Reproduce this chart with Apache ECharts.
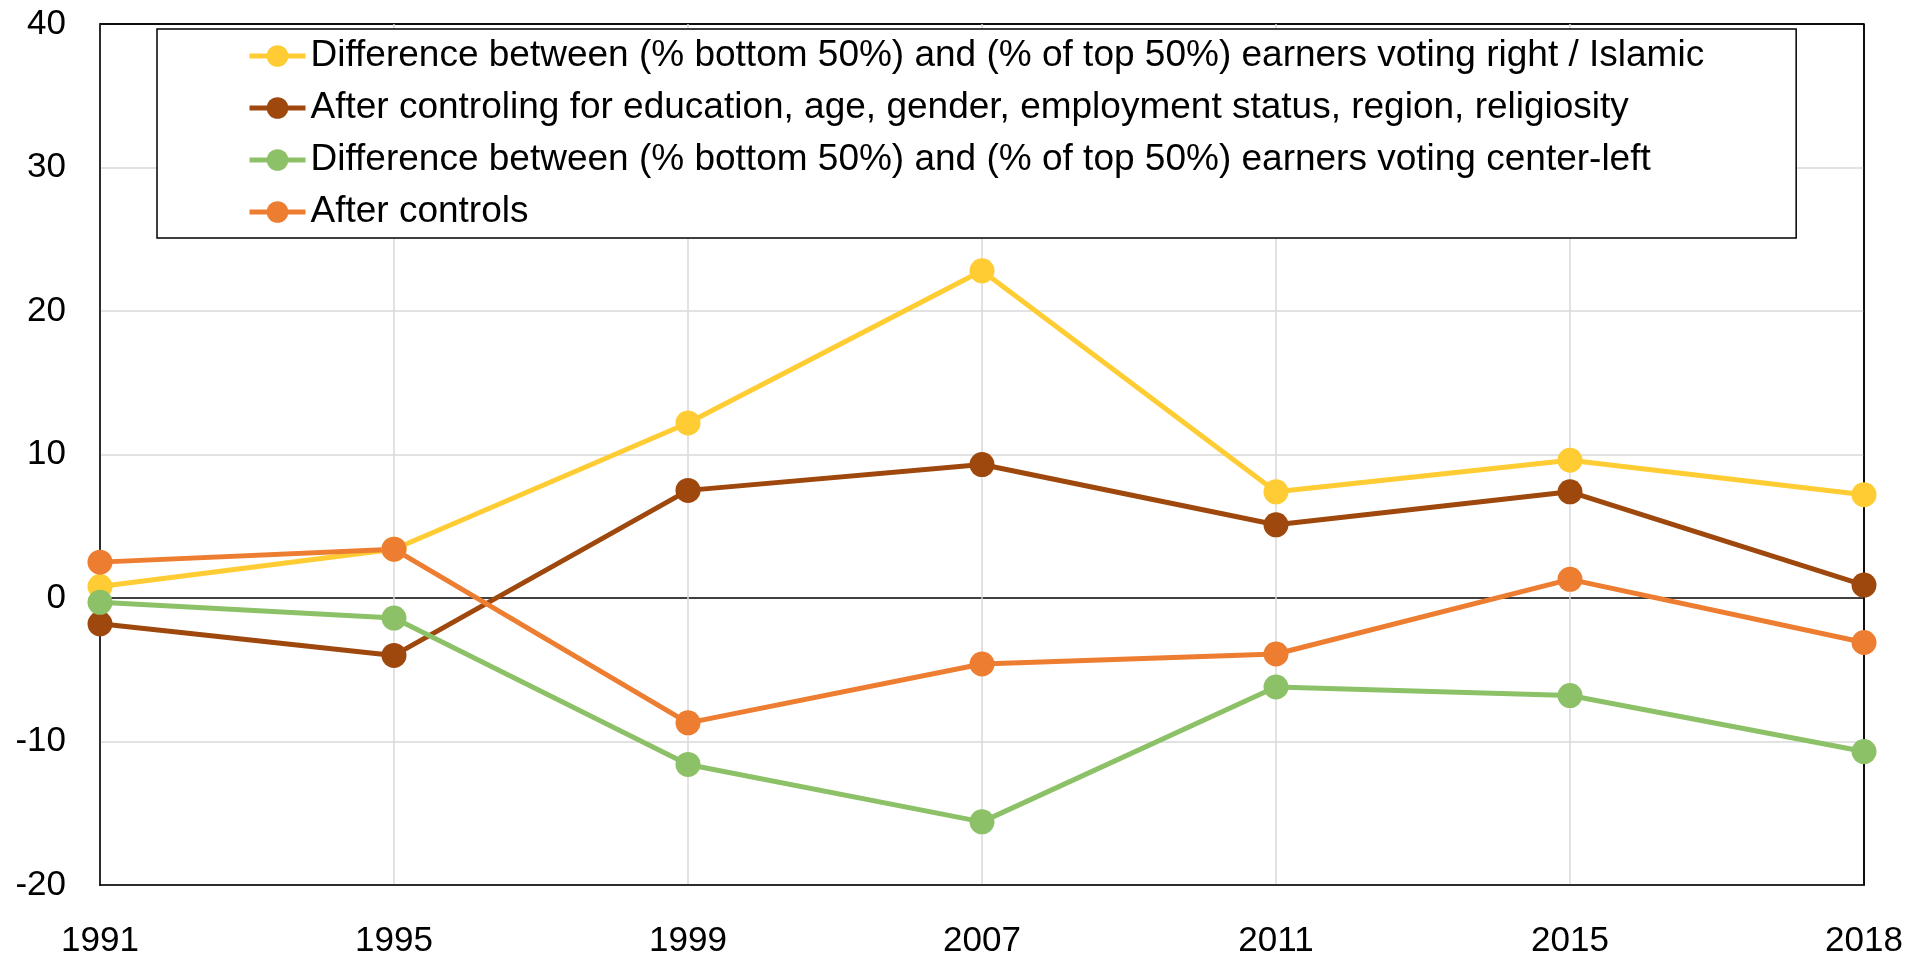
<!DOCTYPE html>
<html>
<head>
<meta charset="utf-8">
<script src="https://cdn.jsdelivr.net/npm/echarts@6/dist/echarts.min.js"></script>
<style>
html,body{margin:0;padding:0;background:#fff;}
#chart{width:1924px;height:959px;}
</style>
</head>
<body>
<div id="chart"></div>
<script>
const years = ['1991','1995','1999','2007','2011','2015','2018'];
const yTicks = [-20, -10, 0, 10, 20, 30, 40];

const nameRightIslamic = 'Difference between (% bottom 50%) and (% of top 50%) earners voting right / Islamic';
const nameRightControls = 'After controling for education, age, gender, employment status, region, religiosity';
const nameCenterLeft = 'Difference between (% bottom 50%) and (% of top 50%) earners voting center-left';
const nameLeftControls = 'After controls';

const rightIslamic = [0.8, 3.4, 12.2, 22.8, 7.4, 9.6, 7.2];
const rightControls = [-1.8, -4.0, 7.5, 9.3, 5.1, 7.4, 0.9];
const centerLeft = [-0.3, -1.4, -11.6, -15.6, -6.2, -6.8, -10.7];
const leftControls = [2.5, 3.4, -8.7, -4.6, -3.9, 1.3, -3.1];

const colors = ['#FFCC33', '#9E480E', '#8CC168', '#ED7D31'];
const FONT = '"Liberation Sans", Arial, sans-serif';

function mkSeries(name, data, color) {
  return {
    name: name, type: 'line', data: data,
    symbol: 'circle', symbolSize: 25,
    lineStyle: {color: color, width: 5},
    itemStyle: {color: color},
    emphasis: {disabled: true},
    animation: false
  };
}

const chart = echarts.init(document.getElementById('chart'), null, {renderer: 'canvas'});
chart.setOption({
  backgroundColor: '#fff',
  animation: false,
  textStyle: {fontFamily: FONT},
  grid: {left: 100, right: 60, top: 24, bottom: 73, show: true, borderColor: '#000', borderWidth: 1.5, backgroundColor: 'transparent'},
  legend: {
    orient: 'vertical', left: 157, top: 29,
    backgroundColor: '#fff',
    borderColor: '#000', borderWidth: 1.5,
    padding: [7, 92, 6, 90],
    itemWidth: 56, itemHeight: 27, itemGap: 12,
    lineStyle: {width: 5},
    textStyle: {fontFamily: FONT, fontSize: 37, color: '#000', lineHeight: 40},
    data: [nameRightIslamic, nameRightControls, nameCenterLeft, nameLeftControls],
    selectedMode: false
  },
  xAxis: {
    type: 'category', data: years, boundaryGap: false,
    axisLine: {show: true, onZero: false, lineStyle: {color: '#000', width: 1.5}},
    axisTick: {show: false},
    axisLabel: {color: '#000', fontSize: 35, fontFamily: FONT, margin: 39},
    splitLine: {show: true, lineStyle: {color: years.map((y, i) => i === years.length - 1 ? '#000' : '#D9D9D9'), width: 1.5}}
  },
  yAxis: {
    type: 'value', min: yTicks[0], max: yTicks[yTicks.length - 1], interval: 10,
    axisLine: {show: true, lineStyle: {color: '#000', width: 1.5}},
    axisTick: {show: false},
    axisLabel: {color: '#000', fontSize: 35, fontFamily: FONT, margin: 34},
    splitLine: {show: true, lineStyle: {color: yTicks.map(v => (v === 0 || v === 40) ? '#000' : '#D9D9D9'), width: 1.5}}
  },
  series: [
    mkSeries(nameRightIslamic, rightIslamic, colors[0]),
    mkSeries(nameRightControls, rightControls, colors[1]),
    mkSeries(nameCenterLeft, centerLeft, colors[2]),
    mkSeries(nameLeftControls, leftControls, colors[3])
  ]
});
</script>
</body>
</html>
